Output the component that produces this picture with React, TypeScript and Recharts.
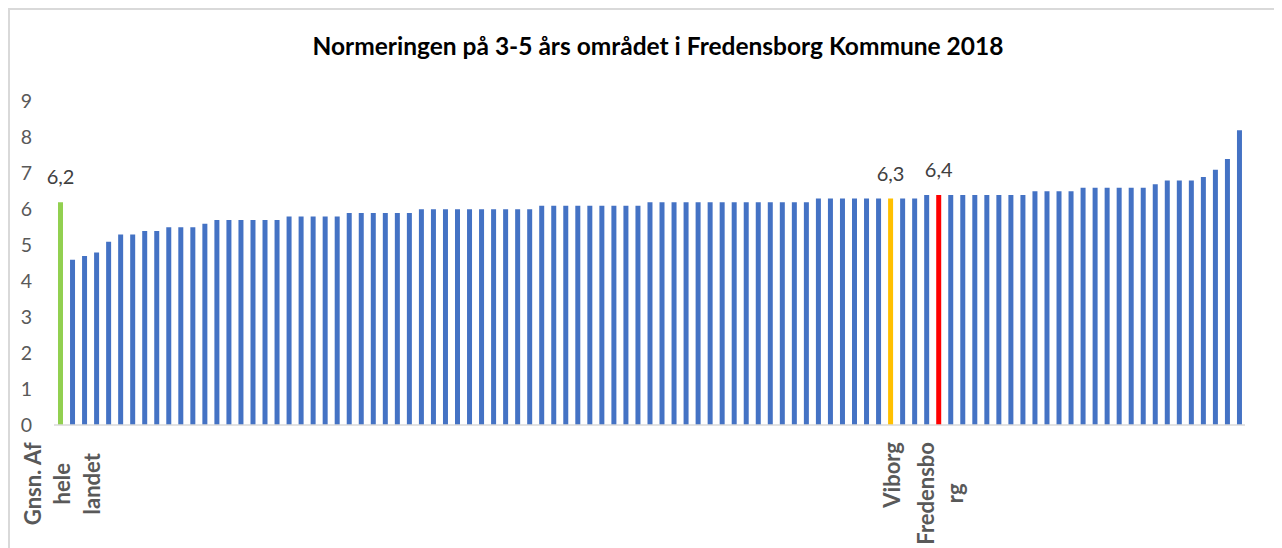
import React from "react"
import { BarChart, Bar, XAxis, YAxis, Cell, LabelList } from "recharts"

// normering per kommune, sorted, first bar = national average
const values = [
  6.2,
  4.6, 4.7, 4.8, 5.1, 5.3, 5.3, 5.4, 5.4, 5.5, 5.5, 5.5, 5.6,
  5.7, 5.7, 5.7, 5.7, 5.7, 5.7,
  5.8, 5.8, 5.8, 5.8, 5.8,
  5.9, 5.9, 5.9, 5.9, 5.9, 5.9,
  6.0, 6.0, 6.0, 6.0, 6.0, 6.0, 6.0, 6.0, 6.0, 6.0,
  6.1, 6.1, 6.1, 6.1, 6.1, 6.1, 6.1, 6.1, 6.1,
  6.2, 6.2, 6.2, 6.2, 6.2, 6.2, 6.2, 6.2, 6.2, 6.2, 6.2, 6.2, 6.2, 6.2,
  6.3, 6.3, 6.3, 6.3, 6.3, 6.3, 6.3, 6.3, 6.3,
  6.4, 6.4, 6.4, 6.4, 6.4, 6.4, 6.4, 6.4, 6.4,
  6.5, 6.5, 6.5, 6.5,
  6.6, 6.6, 6.6, 6.6, 6.6, 6.6,
  6.7,
  6.8, 6.8, 6.8,
  6.9, 7.1, 7.4, 8.2,
]

const namedCategories = ["Gnsn. Af hele landet", "Viborg", "Fredensborg"]
const namedPositions = [0, 69, 73]
const namedColors = ["#92D050", "#FFC000", "#FF0000"]
const yTicks = [0, 1, 2, 3, 4, 5, 6, 7, 8, 9]

// how Excel wrapped the axis labels
const wrapped: Record<string, string[]> = {
  "Gnsn. Af hele landet": ["Gnsn. Af", "hele", "landet"],
  Viborg: ["Viborg"],
  Fredensborg: ["Fredensbo", "rg"],
}

const BLUE = "#4472C4"
const FONT = "Lato, 'Open Sans', sans-serif"

const data = values.map((v, i) => {
  const k = namedPositions.indexOf(i)
  return {
    name: k >= 0 ? namedCategories[k] : "",
    value: v,
    color: k >= 0 ? namedColors[k] : BLUE,
    lbl: k >= 0 ? v.toFixed(1).replace(".", ",") : "",
  }
})

let ctx: CanvasRenderingContext2D | null = null
const measure = (s: string, font: string) => {
  if (!ctx) ctx = document.createElement("canvas").getContext("2d")
  if (!ctx) return s.length * 11
  ctx.font = font
  return ctx.measureText(s).width
}

const XTick = (props: any) => {
  const { x, y, payload } = props
  const lines = wrapped[payload?.value]
  if (!lines) return null
  const max = Math.max(...lines.map((l) => measure(l, "bold 22px Lato")))
  const cy = y + max / 2
  const gap = 29.5
  const x0 = x + 2.5 - ((lines.length - 1) * gap) / 2
  return (
    <g>
      {lines.map((l, i) => {
        const lx = x0 + i * gap
        return (
          <text key={i} x={lx} y={cy} dy="0.35em" textAnchor="middle"
            transform={`rotate(-90 ${lx} ${cy})`}
            fill="#595959" fontFamily={FONT} fontWeight="bold" fontSize={22}>
            {l}
          </text>
        )
      })}
    </g>
  )
}

const YTick = (props: any) => {
  const { x, y, payload } = props
  return (
    <text x={x} y={y} dy="0.35em" textAnchor="end" fill="#595959" fontFamily={FONT} fontSize={19.5}>
      {payload.value}
    </text>
  )
}

const ValueLabel = (props: any) => {
  const { x, y, width, value } = props
  if (!value) return null
  return (
    <text x={x + width / 2} y={y - 18} textAnchor="middle" fill="#404040" fontFamily={FONT} fontSize={20}>
      {value}
    </text>
  )
}

export default function App() {
  return (
    <div style={{ position: "relative", width: 1274, height: 540 }}>
      <div style={{ position: "absolute", left: 0, top: 0, width: 1274, height: 540,
        borderTop: "2px solid #d9d9d9", borderLeft: "2px solid #d9d9d9", boxSizing: "border-box" }} />
      <div style={{ position: "absolute", left: 13, top: 25, width: 1274, textAlign: "center",
        fontFamily: FONT, fontWeight: "bold", fontSize: 24.5, lineHeight: "26px", color: "#000" }}>
        Normeringen på 3-5 års området i Fredensborg Kommune 2018
      </div>
      <BarChart width={1274} height={540} data={data}
        margin={{ top: 93.5, right: 37, bottom: 23, left: 0 }}>
        <XAxis dataKey="name" interval={0} tick={<XTick />} tickLine={false} tickSize={0} tickMargin={17}
          height={100} axisLine={{ stroke: "#d9d9d9", strokeWidth: 1.5 }} />
        <YAxis domain={[0, 9]} ticks={yTicks} width={46} axisLine={false} tickLine={false}
          tickSize={0} tickMargin={22} tick={<YTick />} />
        <Bar dataKey="value" barSize={5} isAnimationActive={false}>
          {data.map((d, i) => (
            <Cell key={`cell-${i}`} fill={d.color} />
          ))}
          <LabelList dataKey="lbl" content={<ValueLabel />} />
        </Bar>
      </BarChart>
    </div>
  )
}
